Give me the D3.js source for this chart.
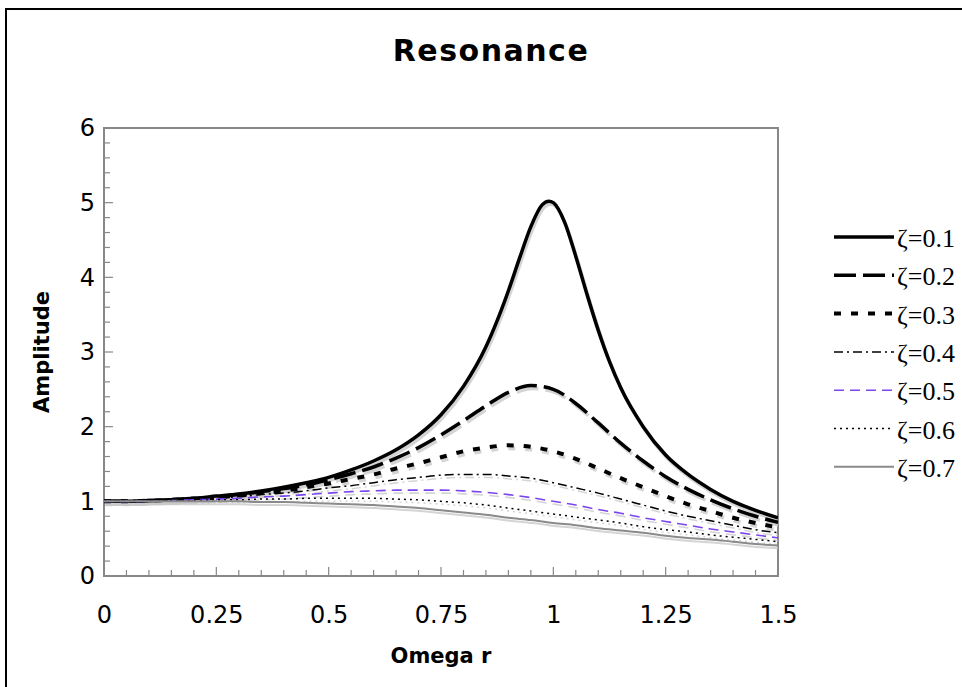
<!DOCTYPE html>
<html>
<head>
<meta charset="utf-8">
<script src="https://cdn.jsdelivr.net/npm/d3@7"></script>
<style>
  html, body { margin: 0; padding: 0; background: #fff; }
  svg { display: block; }
</style>
</head>
<body>
<svg id="chart" width="962" height="687"></svg>
<script>
// values
const omegaR = [0, 0.05, 0.1, 0.15, 0.2, 0.25, 0.3, 0.35, 0.4, 0.45, 0.5, 0.55, 0.6, 0.65, 0.7,
  0.75, 0.8, 0.85, 0.9, 0.95, 1.0, 1.05, 1.1, 1.15, 1.2, 1.25, 1.3, 1.35, 1.4, 1.45, 1.5];
// the sharp peak gets a few more readings
const omegaRPeak = [0, 0.05, 0.1, 0.15, 0.2, 0.25, 0.3, 0.35, 0.4, 0.45, 0.5, 0.55, 0.6, 0.65, 0.7,
  0.75, 0.8, 0.85, 0.875, 0.9, 0.925, 0.95, 0.975, 0.99, 1.0, 1.025, 1.05, 1.075, 1.1, 1.125, 1.15,
  1.2, 1.25, 1.3, 1.35, 1.4, 1.45, 1.5];

const zeta01 = [1.00, 1.00, 1.01, 1.02, 1.04, 1.07, 1.10, 1.14, 1.19, 1.25, 1.32, 1.42, 1.54, 1.69, 1.89,
  2.16, 2.54, 3.07, 3.42, 3.82, 4.26, 4.68, 4.97, 5.02, 5.00, 4.74, 4.28, 3.77, 3.29, 2.87, 2.52,
  2.00, 1.62, 1.36, 1.16, 1.00, 0.88, 0.78];
const zeta02 = [1.00, 1.00, 1.01, 1.02, 1.04, 1.06, 1.09, 1.13, 1.17, 1.22, 1.29, 1.37, 1.46, 1.58, 1.72,
  1.89, 2.08, 2.28, 2.46, 2.55, 2.50, 2.31, 2.05, 1.78, 1.54, 1.33, 1.16, 1.02, 0.90, 0.80, 0.72];
const zeta03 = [1.00, 1.00, 1.01, 1.02, 1.03, 1.05, 1.08, 1.11, 1.14, 1.19, 1.24, 1.30, 1.36, 1.44, 1.51,
  1.59, 1.67, 1.72, 1.75, 1.73, 1.67, 1.57, 1.44, 1.31, 1.19, 1.07, 0.96, 0.87, 0.78, 0.71, 0.65];
const zeta04 = [1.00, 1.00, 1.01, 1.02, 1.03, 1.04, 1.06, 1.09, 1.11, 1.14, 1.18, 1.21, 1.25, 1.29, 1.32,
  1.35, 1.36, 1.36, 1.34, 1.31, 1.25, 1.18, 1.11, 1.03, 0.95, 0.87, 0.80, 0.74, 0.68, 0.62, 0.58];
const zeta05 = [1.00, 1.00, 1.00, 1.01, 1.02, 1.03, 1.04, 1.06, 1.07, 1.09, 1.11, 1.13, 1.14, 1.15, 1.15,
  1.15, 1.14, 1.12, 1.09, 1.05, 1.00, 0.95, 0.89, 0.84, 0.78, 0.73, 0.68, 0.63, 0.59, 0.55, 0.51];
const zeta06 = [1.00, 1.00, 1.00, 1.01, 1.01, 1.02, 1.02, 1.03, 1.03, 1.04, 1.04, 1.04, 1.04, 1.03, 1.02,
  1.00, 0.98, 0.95, 0.91, 0.87, 0.83, 0.79, 0.75, 0.71, 0.66, 0.62, 0.59, 0.55, 0.52, 0.49, 0.46];
const zeta07 = [1.00, 1.00, 1.00, 1.00, 1.00, 1.00, 1.00, 0.99, 0.99, 0.98, 0.97, 0.96, 0.95, 0.93, 0.91,
  0.88, 0.85, 0.82, 0.78, 0.75, 0.71, 0.68, 0.64, 0.61, 0.58, 0.54, 0.51, 0.49, 0.46, 0.43, 0.41];

const seriesNames = ['ζ=0.1', 'ζ=0.2', 'ζ=0.3', 'ζ=0.4', 'ζ=0.5', 'ζ=0.6', 'ζ=0.7'];
const seriesX = [omegaRPeak, omegaR, omegaR, omegaR, omegaR, omegaR, omegaR];
const seriesValues = [zeta01, zeta02, zeta03, zeta04, zeta05, zeta06, zeta07];

const xTicks = [0, 0.25, 0.5, 0.75, 1, 1.25, 1.5];
const yTicks = [0, 1, 2, 3, 4, 5, 6];

// line styles per series
const styles = [
  { color: '#000', width: 3.5, dash: null },
  { color: '#000', width: 3.5, dash: '22,7' },
  { color: '#000', width: 4, dash: '7,10' },
  { color: '#000', width: 1.5, dash: '9,4,2,4' },
  { color: '#7b45f0', width: 1.6, dash: '10,6' },
  { color: '#000', width: 1.5, dash: '2,4' },
  { color: '#8a8a8a', width: 2, dash: null }
];

const svg = d3.select('#chart');
const plot = { left: 104, right: 778, top: 128, bottom: 576 };

const x = d3.scaleLinear().domain([0, 1.5]).range([plot.left, plot.right]);
const y = d3.scaleLinear().domain([0, 6]).range([plot.bottom, plot.top]);

// outer frame
svg.append('rect')
  .attr('x', 6).attr('y', 9)
  .attr('width', 1000).attr('height', 800)
  .attr('fill', 'none').attr('stroke', '#000').attr('stroke-width', 2);

svg.append('text')
  .attr('x', 491).attr('y', 61)
  .attr('text-anchor', 'middle')
  .style('font-family', '"DejaVu Sans", Verdana, sans-serif')
  .style('font-weight', 'bold')
  .style('font-size', '30px')
  .style('letter-spacing', '1.5px')
  .text('Resonance');

// minor ticks inside plot
const gTicks = svg.append('g').attr('stroke', '#888').attr('stroke-width', 1.2);
d3.range(0, 31).forEach(i => {
  const v = i * 0.05;
  const len = i % 5 === 0 ? 9 : 6;
  gTicks.append('line')
    .attr('x1', x(v)).attr('x2', x(v))
    .attr('y1', plot.bottom).attr('y2', plot.bottom - len);
});
d3.range(0, 31).forEach(i => {
  const v = i * 0.2;
  const len = i % 5 === 0 ? 9 : 6;
  gTicks.append('line')
    .attr('x1', plot.left).attr('x2', plot.left + len)
    .attr('y1', y(v)).attr('y2', y(v));
});

// plot frame
svg.append('rect')
  .attr('x', plot.left).attr('y', plot.top)
  .attr('width', plot.right - plot.left).attr('height', plot.bottom - plot.top)
  .attr('fill', 'none').attr('stroke', '#888').attr('stroke-width', 2);

// tick labels via d3 axes
const xAxis = svg.append('g')
  .attr('transform', `translate(0,${plot.bottom})`)
  .call(d3.axisBottom(x).tickValues(xTicks).tickSize(0).tickPadding(30)
    .tickFormat(d => String(d)));
const yAxis = svg.append('g')
  .attr('transform', `translate(${plot.left},0)`)
  .call(d3.axisLeft(y).tickValues(yTicks).tickSize(0).tickPadding(9)
    .tickFormat(d => String(d)));
[xAxis, yAxis].forEach(g => {
  g.select('.domain').remove();
  g.selectAll('text')
    .attr('fill', '#000')
    .style('font-family', '"DejaVu Sans", Verdana, sans-serif')
    .style('font-size', '24px');
});

svg.append('text')
  .attr('x', 441).attr('y', 663)
  .attr('text-anchor', 'middle')
  .style('font-family', '"DejaVu Sans", Verdana, sans-serif')
  .style('font-weight', 'bold').style('font-size', '21px')
  .text('Omega r');

svg.append('text')
  .attr('transform', `translate(49,${(plot.top + plot.bottom) / 2}) rotate(-90)`)
  .attr('text-anchor', 'middle')
  .style('font-family', '"DejaVu Sans", Verdana, sans-serif')
  .style('font-weight', 'bold').style('font-size', '21px')
  .text('Amplitude');

// curves
const line = d3.line()
  .x(d => x(d[0]))
  .y(d => y(d[1]))
  .curve(d3.curveMonotoneX);

svg.append('clipPath').attr('id', 'clip')
  .append('rect')
  .attr('x', plot.left).attr('y', plot.top - 10)
  .attr('width', plot.right - plot.left).attr('height', plot.bottom - plot.top + 10);

const gLines = svg.append('g').attr('clip-path', 'url(#clip)');
const seriesData = seriesValues.map((vals, k) => seriesX[k].map((r, i) => [r, vals[i]]));

// soft shadows first
seriesData.forEach((pts, i) => {
  const s = styles[i];
  gLines.append('path')
    .attr('d', line(pts))
    .attr('transform', 'translate(1.5,3)')
    .attr('fill', 'none')
    .attr('stroke', '#c9c9c9')
    .attr('stroke-opacity', 0.8)
    .attr('stroke-width', s.width)
    .attr('stroke-dasharray', s.dash);
});
seriesData.forEach((pts, i) => {
  const s = styles[i];
  gLines.append('path')
    .attr('d', line(pts))
    .attr('fill', 'none')
    .attr('stroke', s.color)
    .attr('stroke-width', s.width)
    .attr('stroke-dasharray', s.dash);
});

// legend
const legend = svg.append('g');
seriesNames.forEach((name, i) => {
  const s = styles[i];
  const ly = 237 + i * 38.3;
  legend.append('line')
    .attr('x1', 834).attr('x2', 894)
    .attr('y1', ly).attr('y2', ly)
    .attr('stroke', s.color)
    .attr('stroke-width', s.width)
    .attr('stroke-dasharray', s.dash);
  legend.append('text')
    .attr('x', 897).attr('y', ly + 10)
    .style('font-family', '"Liberation Serif", "Times New Roman", serif')
    .style('font-size', '26px')
    .text(name);
});
</script>
</body>
</html>
